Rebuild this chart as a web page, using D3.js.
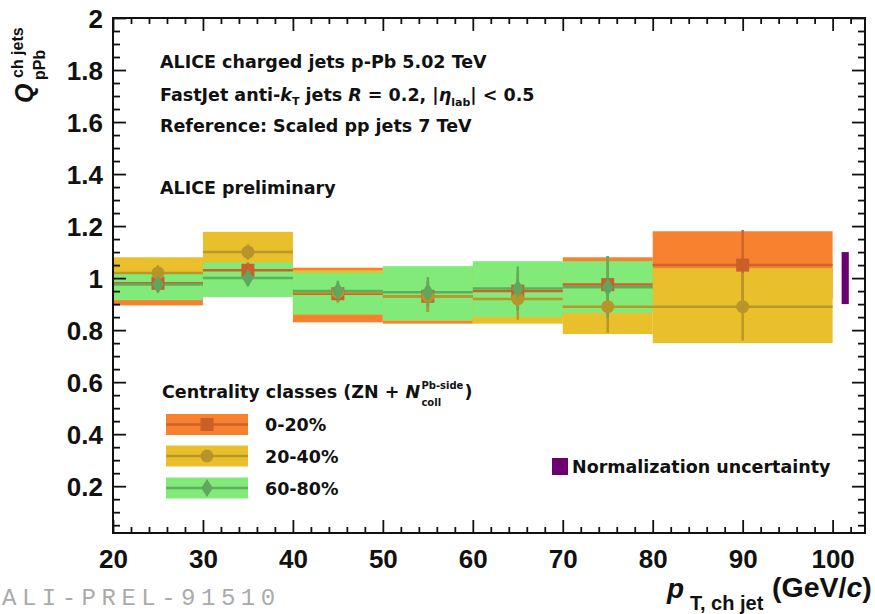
<!DOCTYPE html>
<html>
<head>
<meta charset="utf-8">
<script src="https://cdn.jsdelivr.net/npm/d3@7"></script>
<style>
  body { margin: 0; background: #fff; }
  svg { display: block; }
  text { font-family: "Liberation Sans", Arial, Helvetica, sans-serif; }
  text.wide { font-family: "DejaVu Sans", Verdana, sans-serif; }
  text.mono { font-family: "Liberation Mono", "Courier New", monospace; }
</style>
</head>
<body>
<svg id="chart" width="875" height="614"></svg>
<script>
// Jet pT bins (GeV/c): lower/upper edges and bin centres
const binLo  = [20, 30, 40, 50, 60, 70, 80];
const binHi  = [30, 40, 50, 60, 70, 80, 100];
const binMid = [25, 35, 45, 55, 65, 75, 90];

// 0-20% centrality
const q020     = [0.98, 1.03, 0.94, 0.93, 0.95, 0.975, 1.05];
const stat020  = [0.02, 0.03, 0.03, 0.06, 0.07, 0.11, 0.135];
const sysLo020 = [0.895, 0.94, 0.83, 0.825, 0.845, 0.87, 0.92];
const sysHi020 = [1.065, 1.12, 1.04, 1.04, 1.05, 1.08, 1.18];

// 20-40% centrality
const q2040     = [1.02, 1.10, 0.945, 0.93, 0.92, 0.89, 0.89];
const stat2040  = [0.03, 0.03, 0.04, 0.06, 0.08, 0.10, 0.13];
const sysLo2040 = [0.94, 1.0, 0.86, 0.835, 0.825, 0.785, 0.75];
const sysHi2040 = [1.08, 1.178, 1.03, 1.03, 1.02, 0.995, 1.038];

// 60-80% centrality (no point in the 80-100 bin)
const q6080     = [0.975, 1.0, 0.95, 0.946, 0.96, 0.965];
const stat6080  = [0.03, 0.03, 0.04, 0.058, 0.085, 0.12];
const sysLo6080 = [0.915, 0.927, 0.86, 0.838, 0.85, 0.866];
const sysHi6080 = [1.015, 1.06, 1.02, 1.046, 1.065, 1.065];

// Normalization uncertainty band around unity
const normLo = 0.9, normHi = 1.1, normX = 101.4, normHalfW = 0.4;

// Axis ticks and labels
const xMajor = [20, 30, 40, 50, 60, 70, 80, 90, 100];
const xTickLabels = ["20", "30", "40", "50", "60", "70", "80", "90", "100"];
const yMajor = [0.2, 0.4, 0.6, 0.8, 1.0, 1.2, 1.4, 1.6, 1.8, 2.0];
const yTickLabels = ["0.2", "0.4", "0.6", "0.8", "1", "1.2", "1.4", "1.6", "1.8", "2"];

const legendLabels = ["0-20%", "20-40%", "60-80%"];

const series = [
  { q: q020,  stat: stat020,  lo: sysLo020,  hi: sysHi020,  box: "#f8812f", line: "#cf622a", mark: "#c95f2a", shape: "square" },
  { q: q2040, stat: stat2040, lo: sysLo2040, hi: sysHi2040, box: "#e9bf2b", line: "#b9982b", mark: "#b7952a", shape: "circle" },
  { q: q6080, stat: stat6080, lo: sysLo6080, hi: sysHi6080, box: "#82ea78", line: "#5daf5e", mark: "#5fa75f", shape: "diamond" }
];

const svg = d3.select("#chart");
const L = 113, R = 865, T = 18, B = 533;
const x = d3.scaleLinear().domain([20, 103.6]).range([L, R]);
const y = d3.scaleLinear().domain([0.02, 2]).range([B, T]);

// ---- systematic boxes (all series first) ----
const gBoxes = svg.append("g");
series.forEach(s => {
  gBoxes.selectAll(null).data(s.q.map((v, i) => i)).enter().append("rect")
    .attr("x", i => x(binLo[i]))
    .attr("width", i => x(binHi[i]) - x(binLo[i]))
    .attr("y", i => y(s.hi[i]))
    .attr("height", i => y(s.lo[i]) - y(s.hi[i]))
    .attr("fill", s.box);
});

// ---- central lines, stat bars and markers ----
function drawMarker(g, shape, cx, cy, fill, size) {
  if (shape === "square") {
    g.append("rect").attr("x", cx - size / 2).attr("y", cy - size / 2)
      .attr("width", size).attr("height", size).attr("fill", fill);
  } else if (shape === "circle") {
    g.append("circle").attr("cx", cx).attr("cy", cy).attr("r", size / 2).attr("fill", fill);
  } else {
    const w = size * 0.45, h = size * 0.7;
    g.append("path").attr("d", `M${cx},${cy - h}L${cx + w},${cy}L${cx},${cy + h}L${cx - w},${cy}Z`)
      .attr("fill", fill);
  }
}

const gMarks = svg.append("g");
series.forEach(s => {
  s.q.forEach((v, i) => {
    gMarks.append("line")
      .attr("x1", x(binLo[i])).attr("x2", x(binHi[i]))
      .attr("y1", y(v)).attr("y2", y(v))
      .attr("stroke", s.line).attr("stroke-width", 2.5);
    gMarks.append("line")
      .attr("x1", x(binMid[i])).attr("x2", x(binMid[i]))
      .attr("y1", y(v + s.stat[i])).attr("y2", y(v - s.stat[i]))
      .attr("stroke", s.line).attr("stroke-width", 2.5);
  });
});
series.forEach(s => {
  s.q.forEach((v, i) => drawMarker(gMarks, s.shape, x(binMid[i]), y(v), s.mark, 13));
});

// Normalization uncertainty bar
svg.append("rect")
  .attr("x", x(normX - normHalfW)).attr("width", x(normX + normHalfW) - x(normX - normHalfW))
  .attr("y", y(normHi)).attr("height", y(normLo) - y(normHi))
  .attr("fill", "#6c0070");

// ---- axes: ticks on all four sides, pointing inward ----
const xMinor = d3.range(22, 104, 2).filter(v => v % 10 !== 0);
const yMinor = d3.range(1, 40).map(k => k * 0.05).filter(v => v >= 0.02 && Math.abs(v / 0.2 - Math.round(v / 0.2)) > 1e-6);

function styleAxis(g) {
  g.select(".domain").remove();
  g.selectAll(".tick line").attr("stroke", "#111").attr("stroke-width", 1.8);
}

const axB = svg.append("g").attr("transform", `translate(0,${B})`)
  .call(d3.axisBottom(x).tickValues(xMajor).tickSizeInner(-13).tickSizeOuter(0)
        .tickFormat((d, i) => xTickLabels[i]));
styleAxis(axB);
axB.selectAll(".tick text").attr("y", 35).attr("dy", 0)
  .attr("font-size", 26).attr("font-weight", "bold").attr("fill", "#111");
svg.append("g").attr("transform", `translate(0,${B})`)
  .call(d3.axisBottom(x).tickValues(xMinor).tickSizeInner(-6).tickSizeOuter(0).tickFormat(""))
  .call(styleAxis);
svg.append("g").attr("transform", `translate(0,${T})`)
  .call(d3.axisTop(x).tickValues(xMajor).tickSizeInner(-13).tickSizeOuter(0).tickFormat(""))
  .call(styleAxis);
svg.append("g").attr("transform", `translate(0,${T})`)
  .call(d3.axisTop(x).tickValues(xMinor).tickSizeInner(-6).tickSizeOuter(0).tickFormat(""))
  .call(styleAxis);

const axL = svg.append("g").attr("transform", `translate(${L},0)`)
  .call(d3.axisLeft(y).tickValues(yMajor).tickSizeInner(-13).tickSizeOuter(0)
        .tickFormat((d, i) => yTickLabels[i]));
styleAxis(axL);
axL.selectAll(".tick text").attr("x", -10).attr("dy", "0.36em")
  .attr("font-size", 26).attr("font-weight", "bold").attr("fill", "#111");
svg.append("g").attr("transform", `translate(${L},0)`)
  .call(d3.axisLeft(y).tickValues(yMinor).tickSizeInner(-7).tickSizeOuter(0).tickFormat(""))
  .call(styleAxis);
svg.append("g").attr("transform", `translate(${R},0)`)
  .call(d3.axisRight(y).tickValues(yMajor).tickSizeInner(-13).tickSizeOuter(0).tickFormat(""))
  .call(styleAxis);
svg.append("g").attr("transform", `translate(${R},0)`)
  .call(d3.axisRight(y).tickValues(yMinor).tickSizeInner(-7).tickSizeOuter(0).tickFormat(""))
  .call(styleAxis);

// Frame
svg.append("rect").attr("x", L).attr("y", T).attr("width", R - L).attr("height", B - T)
  .attr("fill", "none").attr("stroke", "#111").attr("stroke-width", 2);

// ---- axis titles ----
const yt = svg.append("g").attr("transform", "translate(33,103) rotate(-90)");
yt.append("text").attr("x", 0).attr("y", 0).attr("font-size", 25).attr("font-weight", "bold")
  .attr("font-style", "italic").attr("fill", "#111").text("Q");
yt.append("text").attr("x", 25).attr("y", -10).attr("font-size", 16).attr("font-weight", "bold")
  .attr("fill", "#111").text("ch jets");
yt.append("text").attr("x", 23).attr("y", 12).attr("font-size", 16).attr("font-weight", "bold")
  .attr("fill", "#111").text("pPb");

svg.append("text").attr("x", 667).attr("y", 598).attr("font-size", 28).attr("font-weight", "bold")
  .attr("font-style", "italic").attr("fill", "#111").text("p");
svg.append("text").attr("x", 690).attr("y", 610).attr("font-size", 20).attr("font-weight", "bold")
  .attr("fill", "#111").text("T, ch jet");
const xtUnit = svg.append("text").attr("x", 772).attr("y", 597).attr("font-size", 28.5)
  .attr("font-weight", "bold").attr("fill", "#111");
xtUnit.append("tspan").text("(GeV/");
xtUnit.append("tspan").attr("font-style", "italic").text("c");
xtUnit.append("tspan").text(")");

// ---- annotation text ----
const FS = 17.5;
const ann = svg.append("g").attr("font-size", FS).attr("font-weight", "bold").attr("fill", "#111");
ann.append("text").attr("class", "wide").attr("x", 160).attr("y", 68).text("ALICE charged jets p-Pb 5.02 TeV");
const l2 = ann.append("text").attr("class", "wide").attr("x", 160).attr("y", 101);
l2.append("tspan").text("FastJet anti-");
l2.append("tspan").attr("font-style", "italic").text("k");
l2.append("tspan").attr("font-size", 11).attr("dy", 4).text("T");
l2.append("tspan").attr("dy", -4).text(" jets  ");
l2.append("tspan").attr("font-style", "italic").text("R");
l2.append("tspan").text(" = 0.2, |");
l2.append("tspan").attr("font-style", "italic").text("η");
l2.append("tspan").attr("font-size", 11).attr("dy", 5).text("lab");
l2.append("tspan").attr("dy", -5).text("| < 0.5");
ann.append("text").attr("class", "wide").attr("x", 160).attr("y", 132).text("Reference: Scaled pp jets 7 TeV");
ann.append("text").attr("class", "wide").attr("x", 160).attr("y", 194).text("ALICE preliminary");

// ---- centrality legend ----
const lg = svg.append("g").attr("font-weight", "bold").attr("fill", "#111");
const lt = lg.append("text").attr("class", "wide").attr("x", 162).attr("y", 398).attr("font-size", FS);
lt.append("tspan").text("Centrality classes (ZN + ");
lt.append("tspan").attr("font-style", "italic").text("N");
const ltSup = lg.append("text").attr("class", "wide").attr("font-size", 10);
const ltSub = lg.append("text").attr("class", "wide").attr("font-size", 10);
const ltClose = lg.append("text").attr("class", "wide").attr("font-size", FS).text(")");

const legY = [424.5, 456, 488];
series.forEach((s, i) => {
  const cy = legY[i];
  lg.append("rect").attr("x", 166).attr("y", cy - 10.5).attr("width", 82).attr("height", 21).attr("fill", s.box);
  lg.append("line").attr("x1", 166).attr("x2", 248).attr("y1", cy).attr("y2", cy)
    .attr("stroke", s.line).attr("stroke-width", 2.5);
  drawMarker(lg, s.shape, 207, cy, s.mark, 13);
  lg.append("text").attr("class", "wide").attr("x", 265).attr("y", cy + 6.5).attr("font-size", FS).text(legendLabels[i]);
});

// place the N_coll super/subscripts after the measured title width
const ltBox = lt.node().getBBox();
const nx = ltBox.x + ltBox.width + 1;
ltSup.attr("x", nx).attr("y", 389).text("Pb-side");
ltSub.attr("x", nx).attr("y", 406).text("coll");
const supW = ltSup.node().getBBox().width;
ltClose.attr("x", nx + supW + 1).attr("y", 398);

// Normalization legend
svg.append("rect").attr("x", 552).attr("y", 458).attr("width", 16).attr("height", 17).attr("fill", "#6c0070");
svg.append("text").attr("class", "wide").attr("x", 572).attr("y", 473).attr("font-size", FS).attr("font-weight", "bold")
  .attr("fill", "#111").text("Normalization uncertainty");

// Figure identifier
svg.append("text").attr("class", "mono").attr("x", 2).attr("y", 605)
  .attr("font-size", 24).attr("letter-spacing", 5.5).attr("fill", "#aaaaaa").text("ALI-PREL-91510");
</script>
</body>
</html>
